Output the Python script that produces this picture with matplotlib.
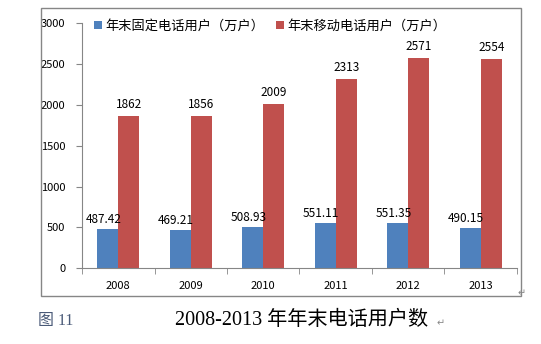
import matplotlib.pyplot as plt
import numpy as np
from matplotlib.patches import Rectangle

years = ['2008', '2009', '2010', '2011', '2012', '2013']
fixed = [487.42, 469.21, 508.93, 551.11, 551.35, 490.15]
mobile = [1862, 1856, 2009, 2313, 2571, 2554]
fixed_labels = ['487.42', '469.21', '508.93', '551.11', '551.35', '490.15']
mobile_labels = ['1862', '1856', '2009', '2313', '2571', '2554']

plt.rcParams['font.family'] = ['Noto Sans CJK SC', 'DejaVu Sans']
axis_color = '#868686'

fig = plt.figure(figsize=(5.41, 3.44), dpi=100)
# outer chart frame
fig.patches.append(Rectangle((0.0758, 0.1395), 0.887, 0.837, transform=fig.transFigure,
                             fill=False, edgecolor=axis_color, linewidth=1.0))
ax = fig.add_axes([0.1516, 0.2195, 0.804, 0.715])

x = np.arange(len(years))
w = 0.29
ax.bar(x - w / 2, fixed, w, color='#4F81BD', label='年末固定电话用户（万户）')
ax.bar(x + w / 2, mobile, w, color='#C0504D', label='年末移动电话用户（万户）')

for i in range(len(years)):
    ax.text(x[i] - w / 2 - 0.06, fixed[i] + 115, fixed_labels[i], ha='center', va='center', fontsize=8.5)
    ax.text(x[i] + w / 2, mobile[i] + 140, mobile_labels[i], ha='center', va='center', fontsize=8.5)

ax.set_xlim(-0.5, 5.5)
ax.set_ylim(0, 3000)
ax.set_yticks(range(0, 3001, 500))
ax.set_xticks(x)
ax.set_xticklabels(years, fontsize=8)
ax.tick_params(axis='y', labelsize=8, length=4, color=axis_color, pad=8)
ax.tick_params(axis='x', length=0, pad=9)
# category boundary ticks on x axis
ax.set_xticks(np.arange(-0.5, 6, 1), minor=True)
ax.tick_params(axis='x', which='minor', length=4, color=axis_color, direction='out')

for s in ['top', 'right']:
    ax.spines[s].set_visible(False)
for s in ['left', 'bottom']:
    ax.spines[s].set_color(axis_color)

ax.legend(loc='upper left', bbox_to_anchor=(0.028, 1.012), ncol=2, frameon=False, fontsize=9.5,
          borderaxespad=0, borderpad=0,
          handlelength=0.6, handleheight=0.6, handletextpad=0.25, columnspacing=0.9)

fig.text(0.965, 0.148, '↵', fontsize=7, color='#888888', ha='center', va='center', family='DejaVu Sans')
fig.text(0.07, 0.068, '图 11', fontsize=11.5, color='#4a5a78', ha='left', va='center',
         family=['Liberation Serif', 'Noto Sans CJK SC'])
fig.text(0.323, 0.068, '2008-2013 年年末电话用户数', fontsize=14.5, color='black', ha='left', va='center',
         family=['Liberation Serif', 'Noto Sans CJK SC'])
fig.text(0.806, 0.06, '↵', fontsize=7, color='#888888', ha='left', va='center', family='DejaVu Sans')

fig.savefig('out.png', dpi=100)
